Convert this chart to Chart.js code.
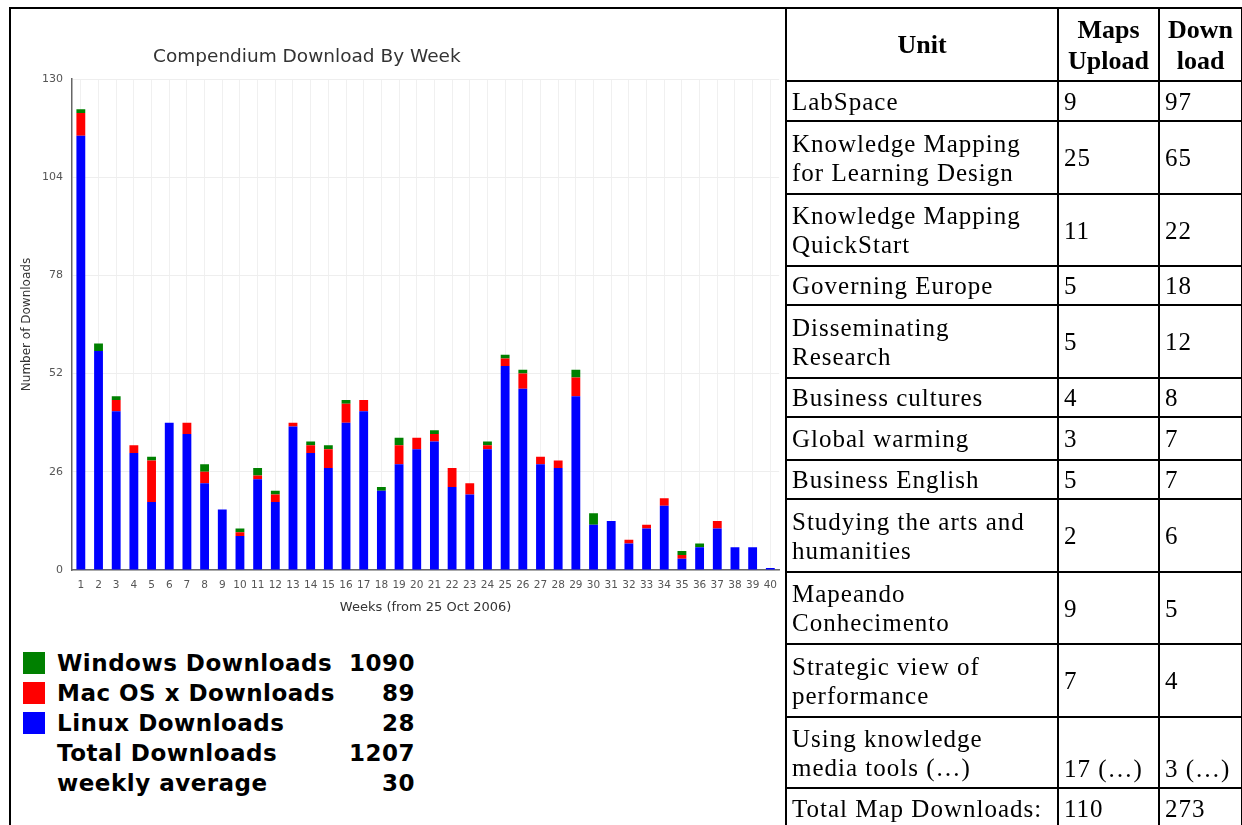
<!DOCTYPE html>
<html>
<head>
<meta charset="utf-8">
<script src="https://cdn.jsdelivr.net/npm/chart.js@4.4.0/dist/chart.umd.min.js"></script>
<style>
  body { margin: 0; background: #fff; width: 1242px; height: 825px; overflow: hidden; position: relative; }
  #frame { position: absolute; left: 9px; top: 7px; width: 790px; height: 840px; border-left: 2px solid #000; border-top: 2px solid #000; }
  #chartTitle { position: absolute; left: 153px; top: 45px; font: 18.5px "DejaVu Sans"; line-height: 22px; color: #333; white-space: nowrap; }
  #chartBox { position: absolute; left: 11px; top: 10px; width: 775px; height: 610px; }
  #legend { position: absolute; left: 23px; top: 650px; width: 392px; font: bold 23px "DejaVu Sans"; letter-spacing: 0.5px; color: #000; }
  #legend .row { position: relative; height: 30px; }
  #legend .sw { position: absolute; left: 0; top: 2px; width: 22px; height: 22px; }
  #legend .lbl { position: absolute; left: 34px; top: 0; line-height: 26px; white-space: nowrap; }
  #legend .num { position: absolute; right: 0; top: 0; line-height: 26px; }
  #units { position: absolute; left: 785px; top: 7px; width: 456px; table-layout: fixed; border-collapse: collapse; font: 25px "Liberation Serif"; letter-spacing: 1px; color: #000; }
  #units td, #units th { border: 2px solid #000; padding: 0 2px 0 5px; line-height: 29px; vertical-align: middle; text-align: left; white-space: pre-line; overflow: hidden; }
  #units th { text-align: center; font-weight: bold; font-size: 26px; letter-spacing: 0; line-height: 31px; padding: 0; }
  #units td.bottom { vertical-align: bottom; padding-bottom: 4px; }
</style>
</head>
<body>
<div id="frame"></div>
<div id="chartBox"><canvas id="weekly-downloads"></canvas></div>
<div id="chartTitle">Compendium Download By Week</div>
<div id="legend"></div>
<table id="units"></table>
<script>
// weekly downloads
const weeks = ['1', '2', '3', '4', '5', '6', '7', '8', '9', '10', '11', '12', '13', '14', '15', '16', '17', '18', '19', '20',
  '21', '22', '23', '24', '25', '26', '27', '28', '29', '30', '31', '32', '33', '34', '35', '36', '37', '38', '39', '40'];
const blueDownloads = [115, 58, 42, 31, 18, 39, 36, 23, 16, 9, 24, 18, 38, 31, 27, 39, 42, 21, 28, 32,
  34, 22, 20, 32, 54, 48, 28, 27, 46, 12, 13, 7, 11, 17, 3, 6, 11, 6, 6, 0];
const redDownloads = [6, 0, 3, 2, 11, 0, 3, 3, 0, 1, 1, 2, 1, 2, 5, 5, 3, 0, 5, 3,
  2, 5, 3, 1, 2, 4, 2, 2, 5, 0, 0, 1, 1, 2, 1, 0, 2, 0, 0, 0];
const greenDownloads = [1, 2, 1, 0, 1, 0, 0, 2, 0, 1, 2, 1, 0, 1, 1, 1, 0, 1, 2, 0,
  1, 0, 0, 1, 1, 1, 0, 0, 2, 3, 0, 0, 0, 0, 1, 1, 0, 0, 0, 0];
const yMax = 130;
const yStep = 26;

// legend block under the chart
const legendLabels = ['Windows Downloads', 'Mac OS x Downloads', 'Linux Downloads', 'Total Downloads', 'weekly average'];
const legendColors = ['#008000', '#ff0000', '#0000ff', null, null];
const legendNumbers = ['1090', '89', '28', '1207', '30'];

// units table
const tableHeader = ['Unit', 'Maps\nUpload', 'Down\nload'];
const unitNames = ['LabSpace', 'Knowledge Mapping\nfor Learning Design', 'Knowledge Mapping\nQuickStart', 'Governing Europe',
  'Disseminating\nResearch', 'Business cultures', 'Global warming', 'Business English', 'Studying the arts and\nhumanities',
  'Mapeando\nConhecimento', 'Strategic view of\nperformance', 'Using knowledge\nmedia tools (…)', 'Total Map Downloads:'];
const mapsUpload = ['9', '25', '11', '5', '5', '4', '3', '5', '2', '9', '7', '17 (…)', '110'];
const mapDownloads = ['97', '65', '22', '18', '12', '8', '7', '7', '6', '5', '4', '3 (…)', '273'];

// table layout
const colWidths = [272, 101, 83];
const rowHeights = [40, 73, 72, 39, 73, 39, 43, 39, 73, 72, 73, 71, 40];

Chart.defaults.font.family = 'DejaVu Sans';

const legendBox = document.getElementById('legend');
legendLabels.forEach((label, i) => {
  const row = document.createElement('div');
  row.className = 'row';
  if (legendColors[i]) {
    const sw = document.createElement('div');
    sw.className = 'sw';
    sw.style.background = legendColors[i];
    row.appendChild(sw);
  }
  const lbl = document.createElement('div');
  lbl.className = 'lbl';
  lbl.textContent = label;
  const num = document.createElement('div');
  num.className = 'num';
  num.textContent = legendNumbers[i];
  row.appendChild(lbl);
  row.appendChild(num);
  legendBox.appendChild(row);
});

const table = document.getElementById('units');
const colgroup = document.createElement('colgroup');
colWidths.forEach(w => {
  const col = document.createElement('col');
  col.style.width = w + 'px';
  colgroup.appendChild(col);
});
table.appendChild(colgroup);
const head = document.createElement('tr');
head.style.height = '73px';
tableHeader.forEach(h => {
  const th = document.createElement('th');
  th.textContent = h;
  head.appendChild(th);
});
table.appendChild(head);
unitNames.forEach((name, i) => {
  const tr = document.createElement('tr');
  tr.style.height = rowHeights[i] + 'px';
  [name, mapsUpload[i], mapDownloads[i]].forEach(text => {
    const td = document.createElement('td');
    td.textContent = text;
    if (text.includes('(…)') && !text.includes('\n')) td.className = 'bottom';
    tr.appendChild(td);
  });
  table.appendChild(tr);
});

const weeklyDownloads = document.getElementById('weekly-downloads');

new Chart(weeklyDownloads, {
  type: 'bar',
  data: {
    labels: weeks,
    datasets: [
      {
        label: 'Linux Downloads',
        data: blueDownloads,
        backgroundColor: '#0000ff',
        borderWidth: 0,
        barPercentage: 0.5,
        categoryPercentage: 1,
        minBarLength: 2 // week 40 shows a tiny stub
      },
      {
        label: 'Mac OS x Downloads',
        data: redDownloads,
        backgroundColor: '#ff0000',
        borderWidth: 0,
        barPercentage: 0.5,
        categoryPercentage: 1
      },
      {
        label: 'Windows Downloads',
        data: greenDownloads,
        backgroundColor: '#008000',
        borderWidth: 0,
        barPercentage: 0.5,
        categoryPercentage: 1
      }
    ]
  },
  options: {
    responsive: true,
    maintainAspectRatio: false,
    animation: false,
    layout: { padding: { top: 69 } },
    plugins: {
      legend: { display: false },
      tooltip: { enabled: false },
      title: { display: false }
    },
    scales: {
      x: {
        stacked: true,
        offset: true,
        grid: { offset: false, color: '#f0f0f0', drawTicks: false },
        border: { color: '#666', width: 1.5 },
        ticks: { color: '#555', font: { size: 10.5 }, padding: 9, autoSkip: false, maxRotation: 0 },
        title: {
          display: true,
          text: 'Weeks (from 25 Oct 2006)',
          color: '#333',
          font: { size: 13 },
          padding: { top: 4, bottom: 5 }
        },
        afterFit: scale => { scale.height = 50; }
      },
      y: {
        stacked: true,
        min: 0,
        max: yMax,
        grid: { color: '#eeeeee', drawTicks: false },
        border: { color: '#666', width: 1.5 },
        ticks: { stepSize: yStep, color: '#555', font: { size: 11 }, padding: 9 },
        title: {
          display: true,
          text: 'Number of Downloads',
          color: '#333',
          font: { size: 12 },
          padding: { top: 9, bottom: 4 }
        },
        afterFit: scale => { scale.width = 61; }
      }
    }
  }
});
</script>
</body>
</html>
